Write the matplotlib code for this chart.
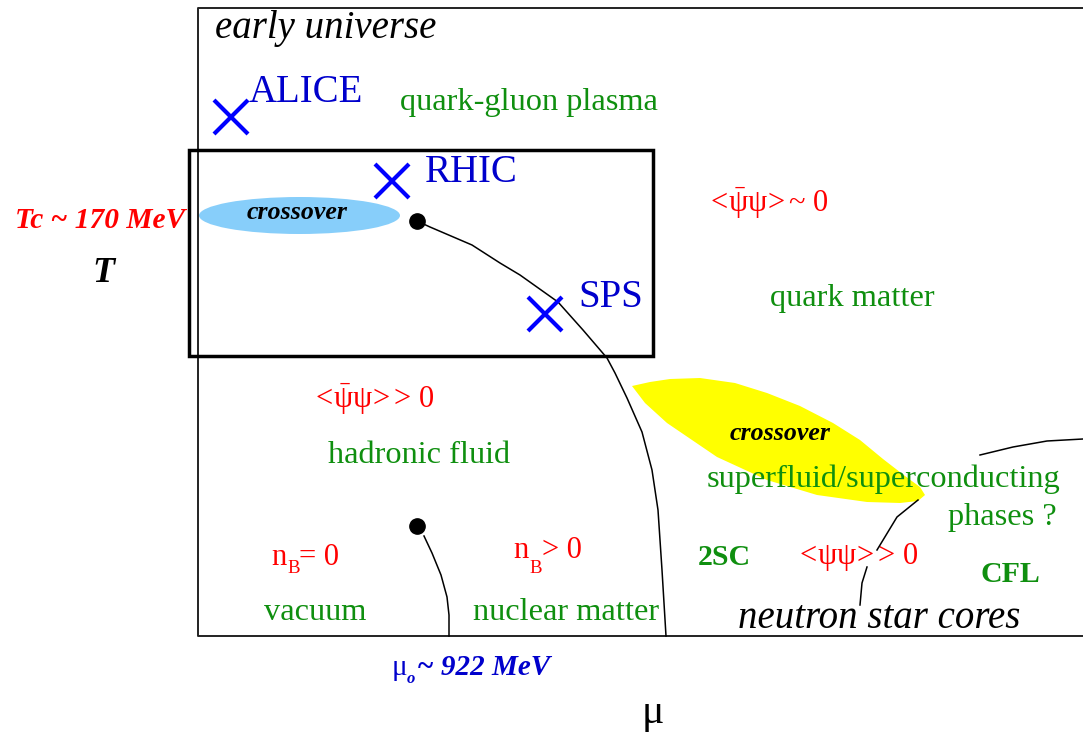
import numpy as np
import matplotlib.pyplot as plt
from matplotlib.patches import Ellipse, Polygon

plt.rcParams['font.family'] = ['Liberation Serif', 'DejaVu Serif']
plt.rcParams['mathtext.fontset'] = 'custom'
plt.rcParams['mathtext.rm'] = 'Liberation Serif'
plt.rcParams['mathtext.it'] = 'Liberation Serif:italic'
plt.rcParams['mathtext.bf'] = 'Liberation Serif:bold'

# phase diagram sketch, drawn in picture units (mu to the right, T downward on screen)
# experiments
exp_names = ['ALICE', 'RHIC', 'SPS']
exp_mu = [231, 392, 545]
exp_T = [117, 181, 314]
exp_label_x = [249, 425, 578]
exp_label_y = [102, 182, 307]

# critical points
crit_mu = [417, 417]
crit_T = [221, 526]

# chiral transition line from the upper critical point
chiral_mu = [417, 430, 472, 500, 520, 558, 583, 607, 615, 627, 642, 652, 658, 662, 666]
chiral_T = [221, 227, 245, 263, 275, 302, 330, 358, 373, 398, 432, 470, 510, 570, 636]

# liquid-gas line from the lower critical point
lg_mu = [424, 432, 441, 447, 449, 449]
lg_T = [536, 553, 575, 597, 615, 636]

# lines in the colour superconducting region
sc1_mu = [918, 897, 877]
sc1_T = [500, 517, 550]
sc2_mu = [867, 862, 860]
sc2_T = [567, 583, 605]
cfl_mu = [980, 1013, 1047, 1083]
cfl_T = [455, 447, 441, 439]

# high density crossover band (yellow)
band_mu = [632, 650, 670, 700, 735, 767, 800, 833, 860, 883, 905, 920, 925, 918, 900,
           867, 817, 767, 717, 667, 645]
band_T = [386, 382, 379, 378, 383, 393, 406, 423, 440, 459, 476, 487, 495, 501, 503,
          502, 495, 480, 457, 423, 403]

# region box around heavy ion experiments
box_mu = [189, 653]
box_T = [150, 356]

# frame
frame_left, frame_right, frame_top, frame_bottom = 198, 1083, 8, 636

green = '#0f8f0f'
red = '#ff0000'
blue = '#0000cc'
psibar = r'$\mathrm{<\!\bar{\psi}\psi\!>}$'

fig = plt.figure(figsize=(10.83, 7.33), dpi=100)
ax = fig.add_axes([0, 0, 1, 1])
ax.set_xlim(0, 1083)
ax.set_ylim(733, 0)
ax.axis('off')

# frame
ax.plot([frame_right, frame_left, frame_left, frame_right],
        [frame_top, frame_top, frame_bottom, frame_bottom], color='#222222', lw=1.4)

# blobs
ax.add_patch(Ellipse((299.5, 215.5), 201, 37, facecolor='#87cefa', edgecolor='none', zorder=2))
ax.add_patch(Polygon(np.column_stack([band_mu, band_T]), closed=True,
                     facecolor='#ffff00', edgecolor='none', zorder=2))

# experiment box
ax.add_patch(plt.Rectangle((box_mu[0], box_T[0]), box_mu[1] - box_mu[0], box_T[1] - box_T[0],
                           fill=False, edgecolor='black', lw=2.5, zorder=3))

# lines
for xs, ys in [(chiral_mu, chiral_T), (lg_mu, lg_T), (sc1_mu, sc1_T),
               (sc2_mu, sc2_T), (cfl_mu, cfl_T)]:
    ax.plot(xs, ys, color='black', lw=1.1, zorder=4)
ax.plot(crit_mu, crit_T, 'o', color='black', ms=11, zorder=5)

# experiments
ax.plot(exp_mu, exp_T, 'x', color='#0000ff', ms=25, mew=3, zorder=6)
for name, x, y in zip(exp_names, exp_label_x, exp_label_y):
    ax.text(x, y, name, color=blue, fontsize=28, va='baseline', zorder=7)

# labels
ax.text(215, 38, 'early universe', fontsize=28, style='italic', va='baseline')
ax.text(400, 110, 'quark-gluon plasma', fontsize=23.3, color=green, va='baseline')
ax.text(297, 219, 'crossover', fontsize=18.6, style='italic', weight='bold',
        ha='center', va='baseline', zorder=7)
ax.text(185, 228, 'Tc ~ 170 MeV', fontsize=21.2, style='italic', weight='bold',
        color=red, ha='right', va='baseline')
ax.text(103, 282, 'T', fontsize=26, style='italic', weight='bold', ha='center', va='baseline')
ax.text(706, 212, psibar + '~ 0', fontsize=22, color=red, va='baseline')
ax.text(770, 306, 'quark matter', fontsize=23.3, color=green, va='baseline')
ax.text(311, 408, psibar + '> 0', fontsize=22, color=red, va='baseline')
ax.text(328, 463, 'hadronic fluid', fontsize=23.3, color=green, va='baseline')

# baryon density labels
ax.text(271, 565, 'n', fontsize=22, color=red, va='baseline')
ax.text(287, 573, 'B', fontsize=13.5, color=red, va='baseline')
ax.text(299, 565, '= 0', fontsize=22, color=red, va='baseline')
ax.text(513, 558, 'n', fontsize=22, color=red, va='baseline')
ax.text(529, 573, 'B', fontsize=13.5, color=red, va='baseline')
ax.text(542, 558, '> 0', fontsize=22, color=red, va='baseline')

ax.text(264, 620, 'vacuum', fontsize=23.3, color=green, va='baseline')
ax.text(473, 620, 'nuclear matter', fontsize=23.3, color=green, va='baseline')

# mu_0 label
ax.text(392, 675, 'μ', fontsize=21, color=blue, va='baseline')
ax.text(407, 683, 'o', fontsize=12, style='italic', weight='bold', color=blue, va='baseline')
ax.text(417, 675, '~ 922 MeV', fontsize=21, style='italic', weight='bold', color=blue, va='baseline')
ax.text(653, 723, 'μ', fontsize=30, ha='center', va='baseline')

ax.text(780, 440, 'crossover', fontsize=18.6, style='italic', weight='bold',
        ha='center', va='baseline', zorder=7)
ax.text(707, 487, 'superfluid/superconducting', fontsize=23.3, color=green, va='baseline', zorder=7)
ax.text(948, 525, 'phases ?', fontsize=23.3, color=green, va='baseline')
ax.text(698, 565, '2SC', fontsize=21.5, weight='bold', color=green, va='baseline')
ax.text(795, 564, r'$\mathrm{<\!\psi\psi\!>}$> 0', fontsize=22, color=red, va='baseline')
ax.text(980, 582, 'CFL', fontsize=21.5, weight='bold', color=green, va='baseline')
ax.text(738, 628, 'neutron star cores', fontsize=28, style='italic', va='baseline')

fig.savefig('out.png', dpi=100)
plt.close()
